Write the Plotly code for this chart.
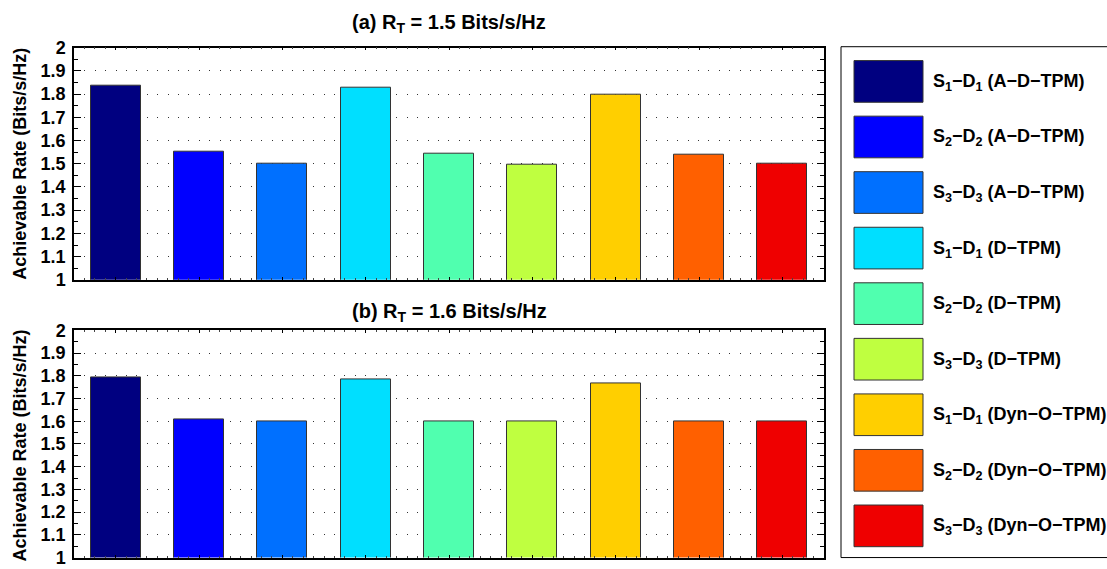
import plotly.graph_objects as go

# ---------------- data ----------------
series = [
    "S<sub>1</sub>\u2212D<sub>1</sub> (A\u2212D\u2212TPM)",
    "S<sub>2</sub>\u2212D<sub>2</sub> (A\u2212D\u2212TPM)",
    "S<sub>3</sub>\u2212D<sub>3</sub> (A\u2212D\u2212TPM)",
    "S<sub>1</sub>\u2212D<sub>1</sub> (D\u2212TPM)",
    "S<sub>2</sub>\u2212D<sub>2</sub> (D\u2212TPM)",
    "S<sub>3</sub>\u2212D<sub>3</sub> (D\u2212TPM)",
    "S<sub>1</sub>\u2212D<sub>1</sub> (Dyn\u2212O\u2212TPM)",
    "S<sub>2</sub>\u2212D<sub>2</sub> (Dyn\u2212O\u2212TPM)",
    "S<sub>3</sub>\u2212D<sub>3</sub> (Dyn\u2212O\u2212TPM)",
]
positions = [1, 2, 3, 4, 5, 6, 7, 8, 9]
rate_a = [1.835, 1.552, 1.501, 1.826, 1.544, 1.496, 1.799, 1.537, 1.500]   # R_T = 1.5
rate_b = [1.793, 1.610, 1.600, 1.784, 1.601, 1.600, 1.766, 1.600, 1.600]   # R_T = 1.6
colors = ["#000080", "#0000FF", "#0070FF", "#00DFFF", "#50FFAF",
          "#BFFF40", "#FFCF00", "#FF6000", "#EF0000"]
titles = ["(a) R<sub>T</sub> = 1.5 Bits/s/Hz", "(b) R<sub>T</sub> = 1.6 Bits/s/Hz"]
y_title = "Achievable Rate (Bits/s/Hz)"

W, H = 1107, 569
FONT = "Liberation Sans, Arial, Helvetica, sans-serif"
YS, YO = 0.9726, 8.0   # vertical layout calibration
EDGE = 1.5 / H          # keep edge lines inside the page


def px(x):
    return x / W


def py(y):
    yy = (y - YO) / YS
    return min(1.0, max(EDGE, 1 - yy / H))


fig = go.Figure()
fig.add_trace(go.Bar(x=positions, y=rate_a, width=0.6, marker_color=colors,
                     marker_line=dict(color="#333333", width=1),
                     xaxis="x", yaxis="y", showlegend=False))
fig.add_trace(go.Bar(x=positions, y=rate_b, width=0.6, marker_color=colors,
                     marker_line=dict(color="#333333", width=1),
                     xaxis="x2", yaxis="y2", showlegend=False))

xdom = [px(74), px(824)]
ydoms = [[py(280), py(46)], [py(566), py(331)]]

common_x = dict(range=[0.5, 9.5], showticklabels=False, showgrid=False,
                showline=True, linecolor="black", linewidth=1.5, mirror="ticks",
                ticks="inside", ticklen=3, tickcolor="black", dtick=1, tick0=1,
                minor=dict(ticks="inside", ticklen=2, dtick=0.125, tick0=0.5,
                           tickcolor="#444444", showgrid=False),
                zeroline=False, fixedrange=True)
common_y = dict(range=[1, 2], dtick=0.1, tick0=1, showgrid=True,
                gridcolor="#333333", griddash="1px,9.4px", gridwidth=1,
                showline=True, linecolor="black", linewidth=1.5, mirror="ticks",
                ticks="inside", ticklen=7, tickcolor="black",
                minor=dict(ticks="inside", ticklen=4, dtick=0.05, tickcolor="black",
                           showgrid=False),
                tickfont=dict(family=FONT, size=18, color="black", weight="bold"),
                ticklabelstandoff=3, ticklabeloverflow="allow",
                zeroline=False, fixedrange=True)

fig.update_layout(
    width=W, height=H, autosize=False,
    margin=dict(l=0, r=0, t=0, b=0, pad=0),
    paper_bgcolor="white", plot_bgcolor="white",
    bargap=0,
    xaxis=dict(domain=xdom, anchor="y", **common_x),
    yaxis=dict(domain=ydoms[0], anchor="x", **common_y),
    xaxis2=dict(domain=xdom, anchor="y2", **common_x),
    yaxis2=dict(domain=ydoms[1], anchor="x2", **common_y),
    showlegend=False,
)

annotations = []
shapes = []
# subplot titles
for t, yc in zip(titles, [22, 313]):
    annotations.append(dict(text=t, x=px(449), y=py(yc), xref="paper", yref="paper",
                            xanchor="center", yanchor="middle", showarrow=False,
                            font=dict(family=FONT, size=20, color="black", weight="bold")))
# y-axis titles
for yc in [163, 447]:
    annotations.append(dict(text=y_title, x=px(20), y=py(yc), xref="paper", yref="paper",
                            xanchor="center", yanchor="middle", textangle=-90,
                            showarrow=False,
                            font=dict(family=FONT, size=18, color="black", weight="bold")))

# legend box
shapes.append(dict(type="rect", xref="paper", yref="paper",
                   x0=px(841), x1=px(1120), y0=py(566), y1=py(45),
                   line=dict(color="black", width=1), fillcolor="white", layer="below"))
for i, (name, col) in enumerate(zip(series, colors)):
    top = 59 + 56 * i
    shapes.append(dict(type="rect", xref="paper", yref="paper",
                       x0=px(854), x1=px(923), y0=py(top + 42), y1=py(top),
                       line=dict(color="#333333", width=1), fillcolor=col))
    annotations.append(dict(text=name, x=px(931), y=py(top + 22), xref="paper",
                            yref="paper", xanchor="left", yanchor="middle",
                            showarrow=False,
                            font=dict(family=FONT, size=18, color="black", weight="bold")))

fig.update_layout(annotations=annotations, shapes=shapes)
fig.write_html("out.html", config={"responsive": False, "displayModeBar": False},
               post_script="document.body.style.margin='0px';document.body.style.overflow='hidden';")
